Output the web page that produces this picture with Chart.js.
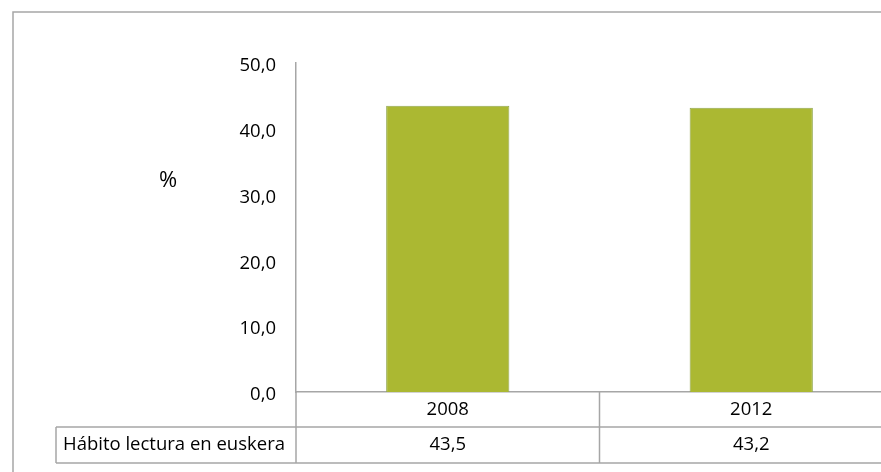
<!DOCTYPE html>
<html>
<head>
<meta charset="utf-8">
<script src="https://cdn.jsdelivr.net/npm/chart.js@4/dist/chart.umd.min.js"></script>
<style>
  html, body { margin: 0; padding: 0; background: #fff; overflow: hidden; }
  #wrap { position: absolute; left: 0; top: 0; width: 910px; height: 472px; }
</style>
</head>
<body>
<div id="wrap"><canvas id="chart" width="910" height="472"></canvas></div>
<script>
const categories = ['2008', '2012'];
const seriesName = 'Hábito lectura en euskera';
const values = [43.5, 43.2];
const yMin = 0;
const yMax = 50;
const yStep = 10;
const yTitle = '%';

const FONT = '"Open Sans", sans-serif';
const LINE = '#a6a6a6';

function fmt(v) {
  return v.toFixed(1).replace('.', ',');
}

// draws the frame, y labels, the "%" label and the data table under the bars
const tablePlugin = {
  id: 'table',
  afterDraw(chart) {
    const ctx = chart.ctx;
    const x = chart.scales.x;
    const y = chart.scales.y;
    const area = chart.chartArea;
    const rowH1 = 35, rowH2 = 36;
    const y0 = area.bottom;
    const y1 = y0 + rowH1;
    const y2 = y1 + rowH2;
    const right = chart.width;
    const half = (x.getPixelForValue(1) - x.getPixelForValue(0)) / 2;

    ctx.save();
    ctx.strokeStyle = LINE;
    ctx.lineWidth = 1.5;

    // outer frame
    ctx.beginPath();
    ctx.moveTo(13, chart.height + 2);
    ctx.lineTo(13, 12);
    ctx.lineTo(right + 2, 12);
    ctx.stroke();

    // table lines
    ctx.beginPath();
    ctx.moveTo(56, y1); ctx.lineTo(right, y1);
    ctx.moveTo(56, y2); ctx.lineTo(right, y2);
    ctx.moveTo(56, y1); ctx.lineTo(56, y2);
    ctx.moveTo(area.left, y0); ctx.lineTo(area.left, y2);
    categories.forEach((c, i) => {
      const edge = x.getPixelForValue(i) + half;
      ctx.moveTo(edge, y0); ctx.lineTo(edge, y2);
    });
    ctx.stroke();

    // texts
    ctx.fillStyle = '#000';
    ctx.font = '18.5px ' + FONT;
    ctx.textBaseline = 'middle';

    ctx.textAlign = 'right';
    y.ticks.forEach(t => {
      ctx.fillText(fmt(t.value), area.left - 20, y.getPixelForValue(t.value) + 3);
    });

    ctx.textAlign = 'center';
    categories.forEach((c, i) => {
      const cx = x.getPixelForValue(i);
      ctx.fillText(c, cx, (y0 + y1) / 2);
      ctx.fillText(fmt(values[i]), cx, (y1 + y2) / 2);
    });
    ctx.textAlign = 'left';
    ctx.fillText(seriesName, 63, (y1 + y2) / 2);

    ctx.textAlign = 'center';
    ctx.font = '22px ' + FONT;
    ctx.fillText(yTitle, 168, 181);
    ctx.restore();
  }
};

new Chart(document.getElementById('chart'), {
  type: 'bar',
  data: {
    labels: categories,
    datasets: [{
      label: seriesName,
      data: values,
      backgroundColor: '#abb832',
      borderColor: '#93a84f',
      borderWidth: 1,
      barPercentage: 0.406,
      categoryPercentage: 1
    }]
  },
  options: {
    responsive: false,
    animation: false,
    layout: { padding: { left: 0, top: 63, right: 7, bottom: 80 } },
    plugins: {
      legend: { display: false },
      tooltip: { enabled: false }
    },
    scales: {
      x: {
        afterFit(scale) { scale.height = 0; },
        grid: { display: false, drawTicks: false },
        border: { display: true, color: LINE, width: 1.5 },
        ticks: { display: false }
      },
      y: {
        min: yMin,
        max: yMax,
        afterFit(scale) { scale.width = 296; },
        grid: { display: false, drawTicks: false },
        border: { display: true, color: LINE, width: 1.5 },
        ticks: {
          stepSize: yStep,
          display: false
        }
      }
    }
  },
  plugins: [tablePlugin]
});
</script>
</body>
</html>
